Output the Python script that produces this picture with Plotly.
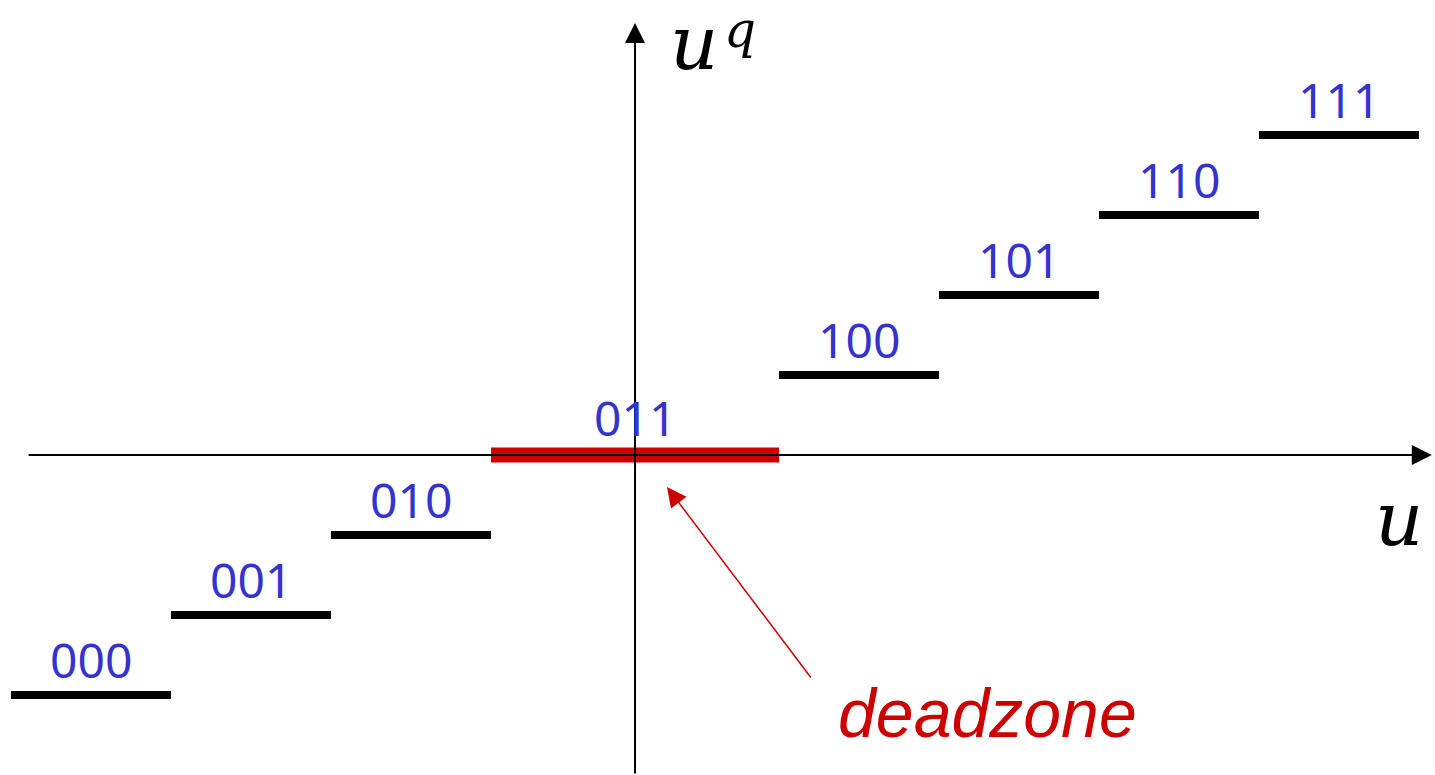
import plotly.graph_objects as go

# ---- data ----
codes = ["000", "001", "010", "011", "100", "101", "110", "111"]
x_start = [-3.9, -2.9, -1.9, -0.9, 0.9, 1.9, 2.9, 3.9]
x_end = [-2.9, -1.9, -0.9, 0.9, 1.9, 2.9, 3.9, 4.9]
levels = [-3, -2, -1, 0, 1, 2, 3, 4]
deadzone_code = "011"

BLUE = "#3434cc"
RED = "#cc0000"
W, H = 1435, 775
XR = [-3.969, 5.0]
YR = [-4.0, 5.6875]

fig = go.Figure()

# black quantizer steps
bx, by = [], []
for c, a, b, l in zip(codes, x_start, x_end, levels):
    if c == deadzone_code:
        continue
    bx += [a, b, None]
    by += [l, l, None]
fig.add_trace(go.Scatter(x=bx, y=by, mode="lines",
                         line=dict(color="black", width=8),
                         hoverinfo="skip", showlegend=False))

# red deadzone step
i = codes.index(deadzone_code)
fig.add_trace(go.Scatter(x=[x_start[i], x_end[i]], y=[levels[i], levels[i]],
                         mode="lines", line=dict(color=RED, width=15),
                         hoverinfo="skip", showlegend=False))

ann = []
# axes arrows
ann.append(dict(x=4.98, y=0, ax=-3.8, ay=0, xref="x", yref="y", axref="x", ayref="y",
                showarrow=True, arrowhead=2, arrowsize=2.0, arrowwidth=2, arrowcolor="black",
                text=""))
ann.append(dict(x=0, y=5.4, ax=0, ay=-4.0, xref="x", yref="y", axref="x", ayref="y",
                showarrow=True, arrowhead=2, arrowsize=2.0, arrowwidth=2, arrowcolor="black",
                text=""))

# code labels
for c, a, b, l in zip(codes, x_start, x_end, levels):
    ann.append(dict(x=(a + b) / 2, y=l, xref="x", yref="y", text=c, showarrow=False,
                    yanchor="middle", yshift=36 if c != deadzone_code else 38,
                    font=dict(family="Noto Sans", size=48, color=BLUE)))

# deadzone arrow + label
ann.append(dict(x=0.2, y=-0.4, ax=1.106, ay=-2.8, xref="x", yref="y", axref="x", ayref="y",
                showarrow=True, arrowhead=2, arrowsize=2.6, arrowwidth=1.5, arrowcolor=RED,
                text=""))
ann.append(dict(x=2.2, y=-3.23, xref="x", yref="y", text="<i>deadzone</i>", showarrow=False,
                font=dict(family="Liberation Sans", size=68, color=RED)))

# axis labels
ann.append(dict(x=4.775, y=-0.8, xref="x", yref="y", text="<i>u</i>", showarrow=False,
                font=dict(family="DejaVu Serif", size=75, color="black")))
ann.append(dict(x=0.37, y=5.15, xref="x", yref="y", text="<i>u</i>", showarrow=False,
                font=dict(family="DejaVu Serif", size=75, color="black")))
ann.append(dict(x=0.656, y=1, xref="x", yref="paper", yanchor="top", text="<i>q</i>",
                showarrow=False, borderpad=0,
                font=dict(family="DejaVu Serif", size=50, color="black")))

fig.update_layout(
    width=W, height=H, margin=dict(l=0, r=0, t=0, b=0),
    plot_bgcolor="white", paper_bgcolor="white",
    xaxis=dict(range=XR, visible=False, fixedrange=True),
    yaxis=dict(range=YR, visible=False, fixedrange=True),
    annotations=ann, showlegend=False,
)
fig.write_html("out.html", config={"displayModeBar": False},
               post_script="document.body.style.margin='0';")
